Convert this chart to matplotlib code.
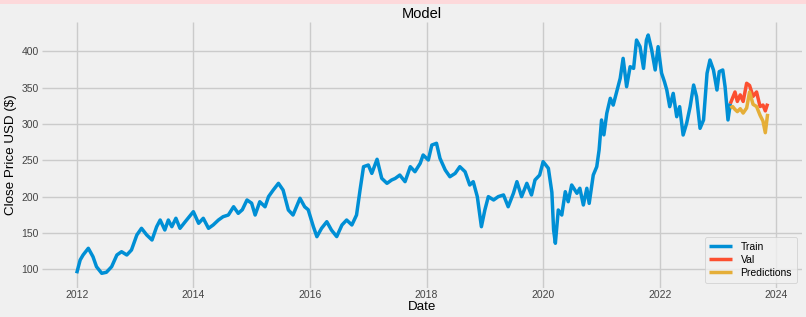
import matplotlib
matplotlib.use("Agg")
import matplotlib.pyplot as plt
from matplotlib.patches import Rectangle
from datetime import datetime, timedelta

plt.style.use("fivethirtyeight")
plt.rcParams["font.family"] = ["Liberation Sans", "DejaVu Sans"]

# ---- data (decimal year, close price) ----
train_t = [2012.00, 2012.06, 2012.11, 2012.20, 2012.28, 2012.34, 2012.43, 2012.51, 2012.60, 2012.69,
           2012.77, 2012.86, 2012.94, 2013.03, 2013.11, 2013.20, 2013.29, 2013.37, 2013.43, 2013.51,
           2013.57, 2013.63, 2013.70, 2013.77, 2013.86, 2014.00, 2014.09, 2014.17, 2014.26, 2014.34,
           2014.43, 2014.51, 2014.60, 2014.69, 2014.77, 2014.84, 2014.92, 2015.00, 2015.06, 2015.14,
           2015.23, 2015.29, 2015.37, 2015.46, 2015.54, 2015.63, 2015.71, 2015.83, 2015.91, 2015.97,
           2016.06, 2016.12, 2016.20, 2016.29, 2016.37, 2016.46, 2016.55, 2016.63, 2016.72, 2016.80,
           2016.86, 2016.92, 2017.00, 2017.06, 2017.15, 2017.23, 2017.32, 2017.40, 2017.46, 2017.54,
           2017.63, 2017.72, 2017.80, 2017.89, 2017.94, 2018.03, 2018.09, 2018.17, 2018.23, 2018.32,
           2018.40, 2018.49, 2018.57, 2018.66, 2018.74, 2018.80, 2018.87, 2018.94, 2019.00, 2019.06,
           2019.15, 2019.23, 2019.32, 2019.40, 2019.49, 2019.55, 2019.63, 2019.72, 2019.80, 2019.86,
           2019.94, 2020.00, 2020.09, 2020.15, 2020.18, 2020.21, 2020.26, 2020.32, 2020.38, 2020.43,
           2020.49, 2020.58, 2020.63, 2020.69, 2020.75, 2020.79, 2020.86, 2020.92, 2020.96, 2021.00,
           2021.04, 2021.09, 2021.15, 2021.20, 2021.26, 2021.32, 2021.37, 2021.43, 2021.49, 2021.55,
           2021.60, 2021.66, 2021.72, 2021.77, 2021.80, 2021.86, 2021.92, 2021.97, 2022.03, 2022.08,
           2022.12, 2022.17, 2022.23, 2022.29, 2022.34, 2022.40, 2022.46, 2022.52, 2022.58, 2022.63,
           2022.69, 2022.75, 2022.81, 2022.86, 2022.92, 2022.98, 2023.02, 2023.08, 2023.12, 2023.17,
           2023.21]
train_close = [94.5, 112.8, 119.7, 128.9, 117.3, 103.6, 94.5, 95.9, 103.6, 119.7,
               124.2, 119.7, 126.6, 147.2, 156.4, 147.2, 140.3, 158.6, 167.8, 154.1,
               167.8, 158.6, 170.2, 156.4, 165.5, 179.3, 163.3, 170.2, 156.4, 161.0,
               167.8, 172.4, 174.7, 186.1, 177.0, 182.0, 195.4, 191.0, 174.7, 193.0,
               186.0, 200.0, 209.0, 218.3, 209.0, 181.6, 174.7, 197.7, 186.0, 182.0,
               158.6, 144.9, 156.4, 165.5, 154.0, 145.0, 161.0, 167.8, 161.0, 174.7,
               209.0, 241.2, 243.5, 232.0, 251.4, 225.2, 218.3, 222.9, 225.0, 229.7,
               220.6, 241.2, 234.3, 245.8, 257.3, 250.4, 271.0, 273.4, 252.7, 236.6,
               227.4, 232.0, 241.2, 234.3, 216.0, 220.6, 200.0, 158.6, 181.6, 200.0,
               195.4, 200.0, 202.3, 186.1, 204.6, 220.6, 200.0, 218.3, 202.3, 222.9,
               229.7, 248.1, 239.0, 206.0, 154.0, 135.8, 181.6, 174.7, 206.8, 193.0,
               216.0, 204.6, 211.5, 188.5, 211.5, 190.7, 229.7, 241.2, 264.2, 305.5,
               285.0, 314.7, 335.3, 326.0, 344.4, 362.8, 390.3, 351.3, 378.8, 376.5,
               415.5, 406.4, 376.5, 415.5, 422.4, 401.8, 374.3, 406.4, 370.0, 358.0,
               346.7, 323.8, 342.1, 310.0, 323.8, 284.8, 300.9, 323.8, 353.6, 337.6,
               294.0, 305.5, 369.7, 388.0, 374.3, 346.7, 372.0, 374.3, 351.3, 305.5,
               328.4]

valid_t = [2023.21, 2023.25, 2023.29, 2023.33, 2023.38, 2023.43, 2023.49, 2023.54,
           2023.60, 2023.66, 2023.72, 2023.77, 2023.81, 2023.85]
valid_close = [328, 336, 344, 331, 340, 331, 356, 353, 338, 344, 324, 326, 318, 328]
predictions = [322, 324, 320, 317, 321, 315, 322, 344, 327, 324, 312, 304, 288, 314]

legend_labels = ["Train", "Val", "Predictions"]


def yr2dt(y):
    year = int(y)
    return datetime(year, 1, 1) + timedelta(days=(y - year) * 365.25)


train_dates = [yr2dt(t) for t in train_t]
valid_dates = [yr2dt(t) for t in valid_t]

W, H = 806, 317
fig = plt.figure(figsize=(W / 100, H / 100), dpi=100)
fig.patch.set_facecolor("#f0f0f0")
fig.patches.append(Rectangle((0, 1 - 4 / H), 1, 4 / H, transform=fig.transFigure,
                             facecolor="#fdd9db", edgecolor="none"))

left, right = 42.3, 802
top, bottom = 21.8, 287.9
ax = fig.add_axes([left / W, 1 - bottom / H, (right - left) / W, (bottom - top) / H])

lw = 2.5
ax.plot(train_dates, train_close, color="#008fd5", lw=lw, solid_joinstyle="round")
ax.plot(valid_dates, valid_close, color="#fc4f30", lw=lw, solid_joinstyle="round")
ax.plot(valid_dates, predictions, color="#e5ae38", lw=lw, solid_joinstyle="round")

ax.set_xlim(yr2dt(2011.41), yr2dt(2024.44))
ax.set_ylim(74.4, 440.6)

ax.set_title("Model", fontsize=10.5, pad=3)
ax.set_xlabel("Date", fontsize=9.6, labelpad=0.5)
ax.set_ylabel("Close Price USD ($)", fontsize=9.6, labelpad=3)
ax.tick_params(axis="both", labelsize=7.5, pad=1.8, colors="#444444", labelcolor="#444444")
ax.tick_params(axis="y", pad=2.4)
ax.grid(True, color="#cbcbcb", lw=1.0)
for s in ax.spines.values():
    s.set_visible(False)

leg = ax.legend(legend_labels, loc="lower right", fontsize=7.5, handlelength=2.2,
                borderpad=0.45, labelspacing=0.3)
leg.get_frame().set_linewidth(0.6)

fig.savefig("out.png", dpi=100, facecolor=fig.get_facecolor())
